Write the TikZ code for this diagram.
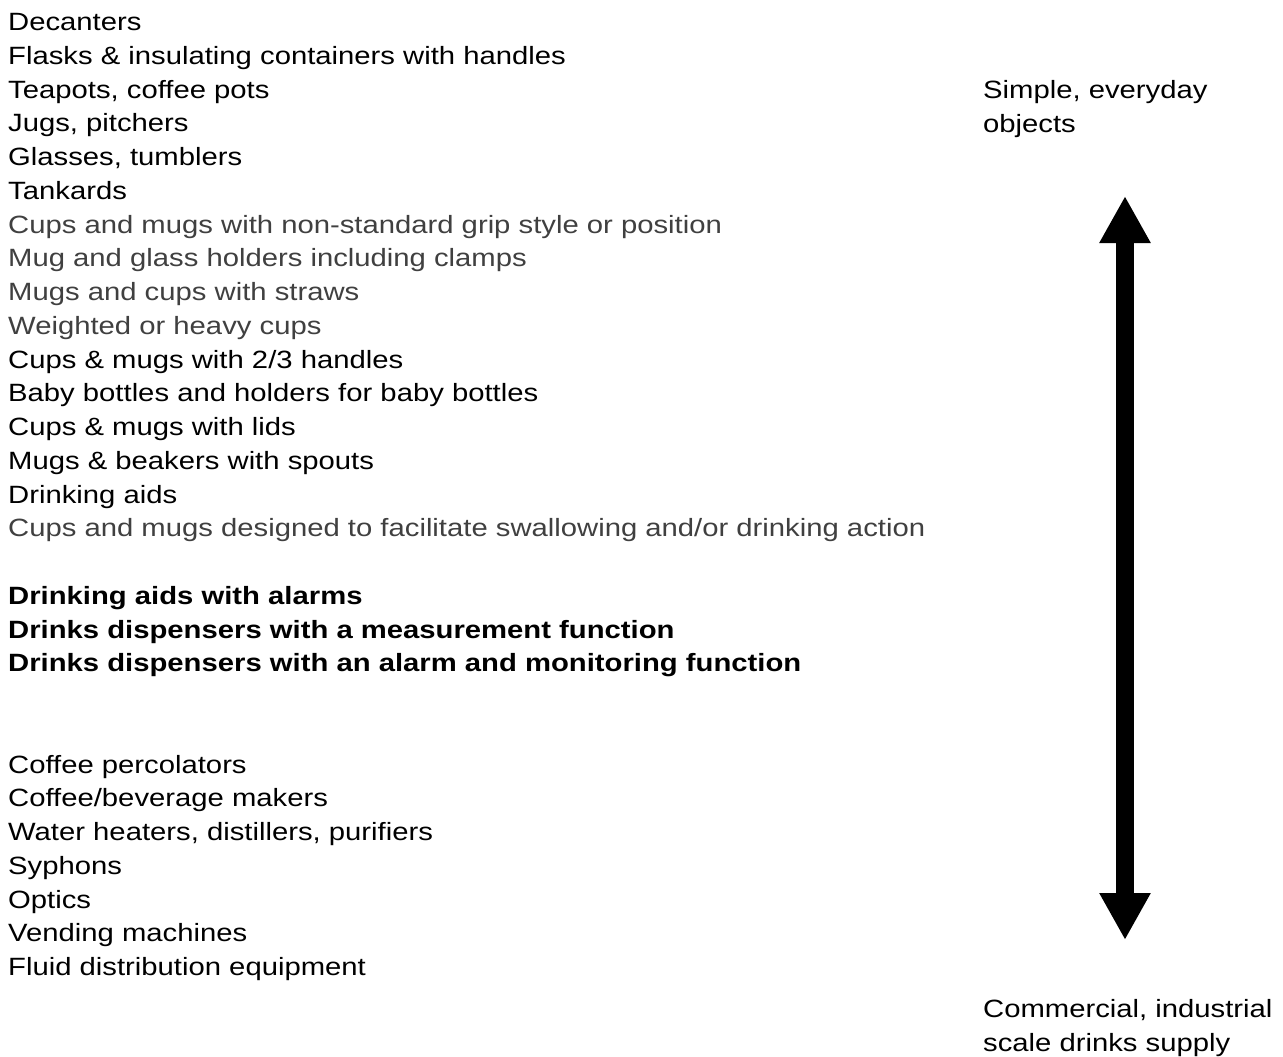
\documentclass[tikz,border=0pt]{standalone}
\usepackage{fontspec}
\setmainfont{Liberation Sans}[FakeStretch=1.17]
\usetikzlibrary{arrows.meta}
\definecolor{txtgrey}{HTML}{404040}

\begin{document}
\begin{tikzpicture}[x=1pt, y=-1pt, font=\fontsize{25}{34}\selectfont,
  item/.style={anchor=base west, inner sep=0pt, text=black},
  greyitem/.style={item, text=txtgrey},
  bolditem/.style={item, font=\fontsize{25}{34}\selectfont\bfseries},
  endnote/.style={anchor=base west, inner sep=0pt, align=left}]
\useasboundingbox (0,0) rectangle (1283,1057);
% List of products
\foreach \txt/\sty/\i in {
  Decanters/item/0,
  {Flasks \& insulating containers with handles}/item/1,
  {Teapots, coffee pots}/item/2,
  {Jugs, pitchers}/item/3,
  {Glasses, tumblers}/item/4,
  Tankards/item/5,
  Cups and mugs with non-standard grip style or position/greyitem/6,
  Mug and glass holders including clamps/greyitem/7,
  Mugs and cups with straws/greyitem/8,
  Weighted or heavy cups/greyitem/9,
  {Cups \& mugs with 2/3 handles}/item/10,
  Baby bottles and holders for baby bottles/item/11,
  {Cups \& mugs with lids}/item/12,
  {Mugs \& beakers with spouts}/item/13,
  Drinking aids/item/14,
  {Cups and mugs designed to facilitate swallowing and/or drinking action}/greyitem/15,
  Drinking aids with alarms/bolditem/17,
  Drinks dispensers with a measurement function/bolditem/18,
  Drinks dispensers with an alarm and monitoring function/bolditem/19,
  Coffee percolators/item/22,
  {Coffee/beverage makers}/item/23,
  {Water heaters, distillers, purifiers}/item/24,
  Syphons/item/25,
  Optics/item/26,
  Vending machines/item/27,
  Fluid distribution equipment/item/28}
  \node[\sty] (l\i) at (8, 30.7+33.75*\i) {\txt};
% Scale ends (base = last line)
\node[endnote] (simple) at (983, 132.5) {Simple, everyday\\objects};
\node[endnote] (commercial) at (983, 1051) {Commercial, industrial\\scale drinks supply};
% Double arrow
\coordinate (top) at (1125,196);
\coordinate (bottom) at (1125,940);
\draw[line width=18pt, {Triangle[length=47pt, width=48pt]}-{Triangle[length=47pt, width=48pt]}] (top) -- (bottom);
\end{tikzpicture}
\end{document}
